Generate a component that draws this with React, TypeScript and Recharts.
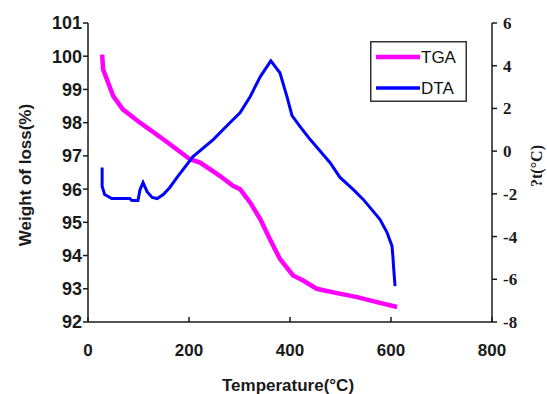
import { LineChart, Line, XAxis, YAxis, Customized } from 'recharts'

const xTicks = [0, 200, 400, 600, 800]
const weightTicks = [92, 93, 94, 95, 96, 97, 98, 99, 100, 101]
const dtaTicks = [-8, -6, -4, -2, 0, 2, 4, 6]

// TGA curve: temperature (°C) and weight (%)
const tgaTemp = [28, 30, 40, 50, 69, 103, 149, 202, 222, 261, 287, 301, 321, 341, 360, 380, 406, 426, 453, 493, 533, 572, 612]
const tgaWeight = [100.05, 99.6, 99.2, 98.8, 98.4, 98.0, 97.5, 96.9, 96.8, 96.4, 96.1, 96.0, 95.6, 95.1, 94.5, 93.9, 93.4, 93.25, 93.0, 92.87, 92.75, 92.6, 92.45]

// DTA curve: temperature (°C) and Δt (°C)
const dtaTemp = [28, 28, 33, 47, 83, 87, 99, 103, 109, 117, 127, 137, 149, 162, 176, 208, 248, 281, 301, 321, 341, 362, 380, 394, 404, 420, 440, 460, 479, 499, 525, 545, 578, 592, 602, 604, 605, 608]
const dtaValue = [-0.77, -1.65, -2.03, -2.22, -2.22, -2.31, -2.31, -1.8, -1.47, -1.9, -2.17, -2.22, -2.03, -1.7, -1.24, -0.25, 0.54, 1.33, 1.8, 2.55, 3.48, 4.23, 3.67, 2.55, 1.66, 1.15, 0.54, 0.0, -0.53, -1.23, -1.79, -2.26, -3.19, -3.8, -4.45, -5.0, -5.39, -6.32]

const legendNames = ['TGA', 'DTA']
const legendColors = ['#ff00ff', '#0000ff']

const tgaData = tgaTemp.map((t, i) => ({ t, w: tgaWeight[i] }))
const dtaData = dtaTemp.map((t, i) => ({ t, d: dtaValue[i] }))

const sans = 'Arial, "Liberation Sans", sans-serif'
const serif = '"Times New Roman", "Liberation Serif", serif'
const ink = '#1a1a1a'

function XTick({ x, y, payload }: { x?: number; y?: number; payload?: { value: number } }) {
  return (
    <g>
      <line x1={x} x2={x} y1={(y ?? 0) - 5} y2={y} stroke={ink} strokeWidth={1.5} />
      <text x={x} y={(y ?? 0) + 34} textAnchor="middle" fontFamily={sans} fontWeight="bold" fontSize={17} fill={ink}>
        {payload?.value}
      </text>
    </g>
  )
}

// legend box + axis titles, placed like the original Excel chart
function Overlay() {
  return (
    <g>
      <rect x={370.75} y={41.75} width={95.5} height={59.5} fill="#fff" stroke="#333" strokeWidth={1.5} />
      {legendNames.map((name, i) => (
        <g key={name}>
          <line
            x1={376}
            x2={420}
            y1={57 + i * 31}
            y2={57 + i * 31}
            stroke={legendColors[i]}
            strokeWidth={i === 0 ? 4.5 : 3.5}
          />
          <text x={421} y={63 + i * 31} fontFamily={sans} fontSize={17} fill="#111">
            {name}
          </text>
        </g>
      ))}
      <text x={288} y={391} textAnchor="middle" fontFamily={sans} fontWeight="bold" fontSize={17} fill={ink}>
        Temperature(°C)
      </text>
      <text
        x={0}
        y={0}
        transform="translate(31,175) rotate(-90)"
        textAnchor="middle"
        fontFamily={sans}
        fontWeight="bold"
        fontSize={17}
        fill={ink}
      >
        Weight of loss(%)
      </text>
      <text
        x={0}
        y={0}
        transform="translate(542,166) rotate(-90)"
        textAnchor="middle"
        fontFamily={serif}
        fontWeight="bold"
        fontSize={16}
        fill={ink}
      >
        ?t(°C)
      </text>
    </g>
  )
}

export default function App() {
  return (
    <div style={{ position: 'absolute', left: 0, top: 0, width: 547, height: 394, background: '#fff' }}>
      <LineChart width={547} height={394} margin={{ top: 23, right: 0, bottom: 42, left: 0 }}>
        <XAxis
          type="number"
          dataKey="t"
          domain={[0, 800]}
          ticks={xTicks}
          allowDataOverflow
          height={30}
          tickSize={0}
          tickMargin={0}
          tickLine={false}
          axisLine={{ stroke: ink, strokeWidth: 1.5 }}
          tick={<XTick />}
        />
        <YAxis
          yAxisId="w"
          domain={[92, 101]}
          ticks={weightTicks}
          width={88}
          interval={0}
          tickSize={5}
          tickMargin={1}
          axisLine={{ stroke: ink, strokeWidth: 1.5 }}
          tickLine={{ stroke: ink, strokeWidth: 1.5 }}
          tick={{ fill: ink, fontFamily: sans, fontWeight: 'bold', fontSize: 18 }}
        />
        <YAxis
          yAxisId="d"
          orientation="right"
          domain={[-8, 6]}
          ticks={dtaTicks}
          width={55}
          interval={0}
          tickSize={5}
          tickMargin={6}
          axisLine={{ stroke: ink, strokeWidth: 1.5 }}
          tickLine={{ stroke: ink, strokeWidth: 1.5 }}
          tick={{ fill: ink, fontFamily: serif, fontWeight: 'bold', fontSize: 17, textAnchor: 'start' }}
        />
        <Line
          yAxisId="w"
          data={tgaData}
          dataKey="w"
          name="TGA"
          type="linear"
          stroke="#ff00ff"
          strokeWidth={4.5}
          dot={false}
          isAnimationActive={false}
        />
        <Line
          yAxisId="d"
          data={dtaData}
          dataKey="d"
          name="DTA"
          type="linear"
          stroke="#0000ff"
          strokeWidth={3}
          dot={false}
          isAnimationActive={false}
        />
        <Customized component={<Overlay />} />
      </LineChart>
    </div>
  )
}
